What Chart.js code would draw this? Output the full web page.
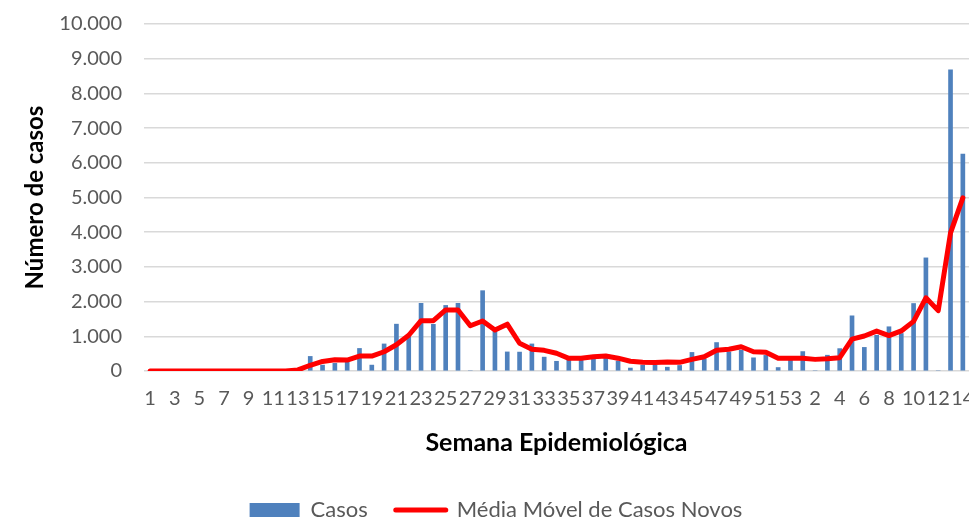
<!DOCTYPE html>
<html lang="pt-BR">
<head>
<meta charset="utf-8">
<title>Casos por semana epidemiológica</title>
<script src="https://cdn.jsdelivr.net/npm/chart.js@4.4.1/dist/chart.umd.min.js"></script>
<style>
  html, body { margin: 0; padding: 0; background: #fff; }
</style>
</head>
<body>
<canvas id="grafico" width="969" height="524"></canvas>
<script>
// Semanas epidemiológicas (ano 1: 1-53, ano 2: 1-14)
const semanas = [
  1, 2, 3, 4, 5, 6, 7, 8, 9, 10, 11, 12, 13, 14, 15, 16, 17, 18, 19, 20,
  21, 22, 23, 24, 25, 26, 27, 28, 29, 30, 31, 32, 33, 34, 35, 36, 37, 38, 39, 40,
  41, 42, 43, 44, 45, 46, 47, 48, 49, 50, 51, 52, 53,
  1, 2, 3, 4, 5, 6, 7, 8, 9, 10, 11, 12, 13, 14
];

const casos = [
  0, 0, 0, 0, 0, 0, 0, 0, 0, 0, 2, 8, 40, 420, 170, 220, 250, 650, 170, 780,
  1350, 990, 1950, 1345, 1890, 1950, 0, 2315, 1150, 550, 545, 780, 400, 280, 330, 360, 380, 420, 290, 85,
  170, 170, 110, 160, 535, 350, 820, 550, 600, 380, 450, 100, 320,
  560, 0, 455, 645, 1590, 680, 1030, 1275, 1080, 1945, 3260, 0, 8680, 6250
];

const mediaMovel = [
  0, 0, 0, 0, 0, 0, 0, 0, 0, 0, 0, 0, 30, 165, 275, 325, 315, 430, 430, 555,
  755, 1030, 1450, 1450, 1760, 1760, 1305, 1440, 1180, 1350, 800, 630, 595, 510, 365, 370, 410, 430, 370, 280,
  250, 245, 260, 250, 335, 410, 600, 625, 700, 555, 540, 365, 370,
  365, 335, 350, 385, 920, 1010, 1150, 1020, 1155, 1430, 2110, 1740, 3980, 4990
];

const yMax = 10000;
const yStep = 1000;

const corCasos = '#4f81bd';
const corMedia = '#ff0000';
const corTexto = '#595959';
const corGrade = '#d9d9d9';

const milhar = (v) => String(v).replace(/\B(?=(\d{3})+(?!\d))/g, '.');

Chart.defaults.font.family = 'Lato';
Chart.defaults.color = corTexto;

new Chart(document.getElementById('grafico'), {
  type: 'bar',
  data: {
    labels: semanas,
    datasets: [
      {
        type: 'bar',
        label: 'Casos',
        data: casos,
        backgroundColor: corCasos,
        barThickness: 4,
        order: 2
      },
      {
        type: 'line',
        label: 'Média Móvel de Casos Novos',
        data: mediaMovel,
        borderColor: corMedia,
        backgroundColor: corMedia,
        borderWidth: 5,
        pointRadius: 0,
        tension: 0,
        borderCapStyle: 'round',
        borderJoinStyle: 'round',
        order: 1
      }
    ]
  },
  options: {
    responsive: false,
    animation: false,
    layout: { padding: { left: 23, right: 0, top: 24, bottom: -7 } },
    plugins: {
      tooltip: { enabled: false },
      legend: {
        position: 'bottom',
        labels: {
          font: { size: 22 },
          color: corTexto,
          usePointStyle: true,
          pointStyleWidth: 50,
          boxHeight: 14,
          padding: 28,
          generateLabels: (chart) => chart.data.datasets.map((ds, i) => ({
            text: ds.label,
            datasetIndex: i,
            fillStyle: ds.type === 'bar' ? corCasos : 'transparent',
            strokeStyle: ds.type === 'bar' ? corCasos : corMedia,
            lineWidth: ds.type === 'bar' ? 0 : 5,
            lineCap: 'round',
            pointStyle: ds.type === 'bar' ? 'rect' : 'line',
            fontColor: corTexto,
            hidden: false
          }))
        }
      }
    },
    scales: {
      x: {
        offset: true,
        grid: { display: true, color: 'transparent', drawTicks: true, tickLength: 16, tickColor: 'transparent' },
        border: { display: false },
        ticks: {
          autoSkip: false,
          maxRotation: 0,
          minRotation: 0,
          padding: 0,
          font: { size: 20 },
          callback: (v, i) => (i % 2 === 0 ? String(semanas[i]) : '')
        },
        title: {
          display: true,
          text: 'Semana Epidemiológica',
          color: '#000',
          font: { size: 25, weight: 'bold' },
          padding: { top: 0, bottom: 13 }
        },
        afterFit: (scale) => {
          scale.height = 100;
          scale.paddingLeft = 0;
          scale.paddingRight = 0;
        }
      },
      y: {
        min: 0,
        max: yMax,
        grid: { color: corGrade, lineWidth: 1.5, drawTicks: false },
        border: { display: false },
        ticks: {
          stepSize: yStep,
          padding: 22,
          font: { size: 20 },
          callback: (v) => milhar(v)
        },
        title: {
          display: true,
          text: 'Número de casos',
          color: '#000',
          font: { size: 24, weight: 'bold', lineHeight: 1 },
          padding: { top: 0, bottom: 0 }
        },
        afterFit: (scale) => {
          scale.width = 121;
          scale.paddingTop = 0;
          scale.paddingBottom = 0;
        }
      }
    }
  }
});
</script>
</body>
</html>
